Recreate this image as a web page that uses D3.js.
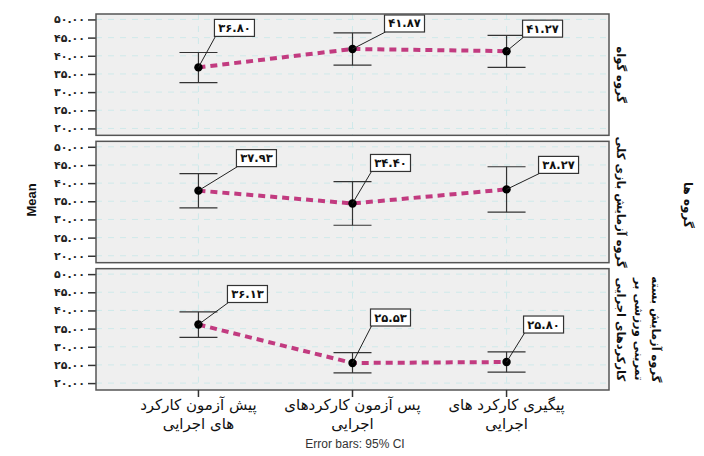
<!DOCTYPE html>
<html>
<head>
<meta charset="utf-8">
<script src="https://cdn.jsdelivr.net/npm/d3@7/dist/d3.min.js"></script>
<style>
  html, body { margin: 0; padding: 0; background: #fff; }
  svg { display: block; }
</style>
</head>
<body>
<svg id="chart" width="704" height="456"></svg>
<script>
// Measurement occasions (x axis), each split into two display lines
const categories = [
  ["پیش آزمون کارکرد", "های اجرایی"],
  ["پس آزمون کارکردهای", "اجرایی"],
  ["پیگیری کارکرد های", "اجرایی"]
];

// Groups (panel rows), each split into display lines
const groups = [
  ["گروه گواه"],
  ["گروه آزمایش بازی کلی"],
  ["گروه آزمایش بسته", "تمرینی ورزشی بر", "کارکردهای اجرایی"]
];

// Means per group
const meansControl = [36.80, 41.87, 41.27];
const meansGame    = [37.93, 34.40, 38.27];
const meansPackage = [36.13, 25.53, 25.80];

// 95% confidence interval bounds per group
const ciLowControl  = [32.6, 37.4, 36.8];
const ciHighControl = [40.9, 46.3, 45.6];
const ciLowGame     = [33.2, 28.4, 32.0];
const ciHighGame    = [42.6, 40.4, 44.5];
const ciLowPackage  = [32.6, 22.8, 23.0];
const ciHighPackage = [39.6, 28.4, 28.6];

// Y tick values
const yTicks = [20, 25, 30, 35, 40, 45, 50];

const means  = [meansControl, meansGame, meansPackage];
const ciLow  = [ciLowControl, ciLowGame, ciLowPackage];
const ciHigh = [ciHighControl, ciHighGame, ciHighPackage];

// Placement of value callouts relative to their point [dx, dy of box bottom]
const calloutOffsets = [
  [[16, -31], [32, -17], [16, -14]],
  [[38, -24], [18, -32], [32, -16]],
  [[29, -22], [18, -37], [17, -29]]
];

const faDigits = "۰۱۲۳۴۵۶۷۸۹";
const toFa = s => String(s).replace(/[0-9]/g, d => faDigits[+d]);
const fmt = v => toFa(v.toFixed(2));

const svg = d3.select("#chart");
const plotLeft = 96, plotRight = 609, plotTop = 14, plotBottom = 390, rowGap = 6;
const nRows = groups.length;
const panelH = (plotBottom - plotTop - rowGap * (nRows - 1)) / nRows;

const x = d3.scalePoint()
  .domain(d3.range(categories.length))
  .range([plotLeft, plotRight])
  .padding(0.665);

const fontFa = "'DejaVu Sans', sans-serif";

groups.forEach((g, gi) => {
  const y0 = plotTop + gi * (panelH + rowGap);
  const y = d3.scaleLinear().domain([18.1, 51.5]).range([y0 + panelH, y0]);
  const panel = svg.append("g");

  panel.append("rect")
    .attr("x", plotLeft).attr("y", y0)
    .attr("width", plotRight - plotLeft).attr("height", panelH)
    .attr("fill", "#efefef");

  // grid lines
  panel.selectAll("line.hg").data(yTicks).join("line")
    .attr("class", "hg")
    .attr("x1", plotLeft).attr("x2", plotRight)
    .attr("y1", d => y(d)).attr("y2", d => y(d))
    .attr("stroke", "#cfe9ea").attr("stroke-width", 1)
    .attr("stroke-dasharray", "6,6");
  panel.selectAll("line.vg").data(x.domain()).join("line")
    .attr("class", "vg")
    .attr("x1", d => x(d)).attr("x2", d => x(d))
    .attr("y1", y0).attr("y2", y0 + panelH)
    .attr("stroke", "#cfe9ea").attr("stroke-width", 1)
    .attr("stroke-dasharray", "6,6");

  // y axis
  const yAxis = d3.axisLeft(y).tickValues(yTicks).tickSize(8).tickPadding(3)
    .tickFormat(fmt);
  const ax = panel.append("g").attr("transform", `translate(${plotLeft},0)`).call(yAxis);
  ax.select(".domain").remove();
  ax.selectAll(".tick line").attr("stroke", "#333").attr("stroke-width", 1.5);
  ax.selectAll(".tick text")
    .attr("font-family", fontFa).attr("font-size", 11).attr("font-weight", "bold")
    .attr("fill", "#222");

  // error bars
  const capW = 19;
  const eb = panel.append("g").attr("stroke", "#333").attr("stroke-width", 1.2);
  means[gi].forEach((m, i) => {
    const cx = x(i);
    eb.append("line").attr("x1", cx).attr("x2", cx)
      .attr("y1", y(ciLow[gi][i])).attr("y2", y(ciHigh[gi][i]));
    eb.append("line").attr("x1", cx - capW).attr("x2", cx + capW)
      .attr("y1", y(ciLow[gi][i])).attr("y2", y(ciLow[gi][i]));
    eb.append("line").attr("x1", cx - capW).attr("x2", cx + capW)
      .attr("y1", y(ciHigh[gi][i])).attr("y2", y(ciHigh[gi][i]));
  });

  // mean line
  const line = d3.line().x((d, i) => x(i)).y(d => y(d));
  panel.append("path").datum(means[gi])
    .attr("d", line).attr("fill", "none")
    .attr("stroke", "#c23b80").attr("stroke-width", 4)
    .attr("stroke-dasharray", "7,5");

  panel.selectAll("circle").data(means[gi]).join("circle")
    .attr("cx", (d, i) => x(i)).attr("cy", d => y(d)).attr("r", 4.2)
    .attr("fill", "#000");

  // value callouts
  means[gi].forEach((m, i) => {
    const px = x(i), py = y(m);
    const [dx, dy] = calloutOffsets[gi][i];
    const bw = 40, bh = 17;
    const bx = px + dx, by = py + dy - bh;
    panel.append("line").attr("x1", px).attr("y1", py)
      .attr("x2", bx + 1).attr("y2", by + bh)
      .attr("stroke", "#222").attr("stroke-width", 1);
    panel.append("rect").attr("x", bx).attr("y", by)
      .attr("width", bw).attr("height", bh)
      .attr("fill", "#fff").attr("stroke", "#333").attr("stroke-width", 1.2);
    panel.append("text").attr("x", bx + bw / 2).attr("y", by + bh / 2 + 4)
      .attr("text-anchor", "middle")
      .attr("font-family", fontFa).attr("font-size", 11.5).attr("font-weight", "bold")
      .attr("fill", "#111").text(fmt(m));
  });

  // panel border
  panel.append("rect")
    .attr("x", plotLeft).attr("y", y0)
    .attr("width", plotRight - plotLeft).attr("height", panelH)
    .attr("fill", "none").attr("stroke", "#555").attr("stroke-width", 1.5);

  // row label (rotated)
  const cy = y0 + panelH / 2;
  const nL = g.length;
  const lineStep = 17.5;
  const lx = 621 + (nL - 1) * lineStep;
  const lab = svg.append("text")
    .attr("transform", `translate(${lx},${cy}) rotate(90)`)
    .attr("text-anchor", "middle")
    .attr("font-family", fontFa).attr("font-size", 11.5).attr("font-weight", "bold")
    .attr("fill", "#111");
  g.forEach((t, li) => {
    lab.append("tspan").attr("x", 0).attr("dy", li === 0 ? 4 : lineStep).text(t);
  });
});

// x axis ticks and labels
const xa = svg.append("g");
x.domain().forEach(i => {
  xa.append("line").attr("x1", x(i)).attr("x2", x(i))
    .attr("y1", plotBottom).attr("y2", plotBottom + 7)
    .attr("stroke", "#333").attr("stroke-width", 1.5);
  const t = xa.append("text").attr("text-anchor", "middle")
    .attr("font-family", fontFa).attr("font-size", 15)
    .attr("fill", "#111");
  categories[i].forEach((s, li) => {
    t.append("tspan").attr("x", x(i)).attr("y", 410 + li * 19).text(s);
  });
});

// y axis title
svg.append("text")
  .attr("transform", "translate(36,200) rotate(-90)")
  .attr("text-anchor", "middle")
  .attr("font-family", "'Liberation Sans', Arial, sans-serif")
  .attr("font-size", 13).attr("font-weight", "bold")
  .attr("fill", "#111").text("Mean");

// outer row title
svg.append("text")
  .attr("transform", "translate(684,205) rotate(90)")
  .attr("text-anchor", "middle")
  .attr("font-family", fontFa).attr("font-size", 12).attr("font-weight", "bold")
  .attr("fill", "#111").text("گروه ها");

// footnote
svg.append("text")
  .attr("x", 355).attr("y", 448)
  .attr("text-anchor", "middle")
  .attr("font-family", "'Liberation Sans', Arial, sans-serif")
  .attr("font-size", 12).attr("fill", "#333")
  .text("Error bars: 95% CI");
</script>
</body>
</html>
